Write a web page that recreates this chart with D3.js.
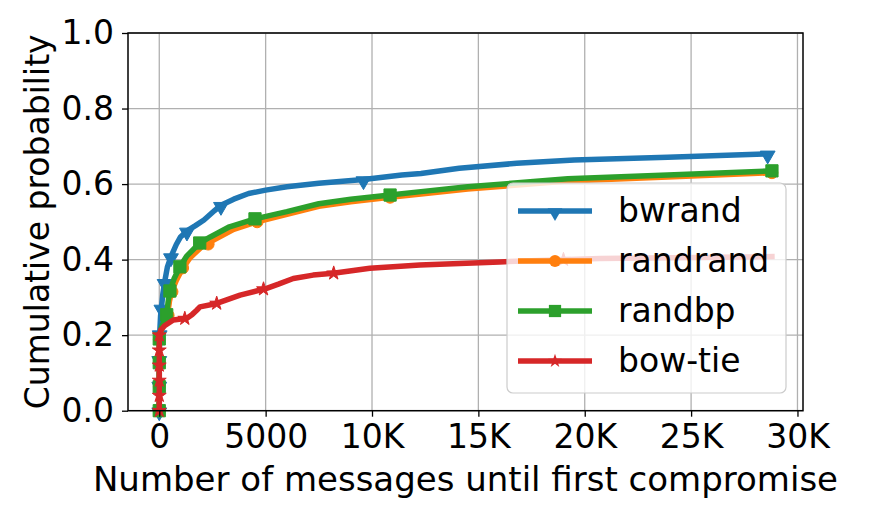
<!DOCTYPE html>
<html lang="en">
<head>
<meta charset="utf-8">
<title>Messages until first compromise</title>
<script src="https://cdn.jsdelivr.net/npm/d3@7"></script>
<style>
  body { margin: 0; background: #fff; }
  svg text { font-family: "DejaVu Sans", sans-serif; fill: #000; }
</style>
</head>
<body>
<script>
// CDF curves: [messages, cumulative probability]
var bwrand = [[0,0],[0,0.14],[20,0.204],[60,0.25],[100,0.272],[170,0.31],[250,0.34],[380,0.38],[550,0.408],[800,0.44],[1000,0.46],[1300,0.476],[1700,0.49],[2100,0.505],[2600,0.53],[2900,0.544],[3500,0.56],[4200,0.575],[5000,0.584],[6000,0.593],[7500,0.602],[9600,0.612],[11400,0.624],[12300,0.628],[14100,0.642],[16800,0.655],[19500,0.664],[23900,0.671],[28600,0.68]];
var randrand = [[0,0],[0,0.19],[130,0.22],[380,0.25],[480,0.29],[580,0.315],[800,0.345],[1080,0.375],[1450,0.405],[2050,0.437],[2600,0.453],[3500,0.48],[4600,0.5],[6000,0.52],[7500,0.541],[9000,0.553],[10850,0.565],[12300,0.574],[14500,0.587],[17000,0.598],[19200,0.608],[23900,0.619],[28800,0.63]];
var randbp = [[0,0],[0,0.19],[100,0.22],[350,0.254],[420,0.29],[500,0.317],[700,0.35],[970,0.381],[1300,0.41],[1900,0.444],[2400,0.46],[3300,0.487],[4500,0.508],[6000,0.527],[7500,0.548],[9000,0.56],[10850,0.571],[12300,0.58],[14500,0.593],[17000,0.604],[19200,0.614],[23900,0.624],[28800,0.635]];
var bowtie = [[0,0],[0,0.2],[100,0.215],[250,0.225],[660,0.24],[1300,0.245],[1550,0.255],[1760,0.266],[1913,0.275],[2700,0.284],[3800,0.306],[5050,0.324],[5600,0.335],[6300,0.35],[7230,0.359],[8180,0.364],[9900,0.377],[12250,0.386],[16000,0.394],[20700,0.403],[28800,0.408]];

// marker positions (markevery) per series
var bwrandMarks = [[0,0],[0,0.068],[0,0.136],[20,0.204],[100,0.272],[250,0.34],[550,0.408],[1300,0.476],[2900,0.544],[9600,0.612],[28600,0.68]];
var randrandMarks = [[0,0],[0,0.063],[0,0.126],[0,0.189],[420,0.252],[600,0.315],[1100,0.378],[2300,0.441],[4600,0.5],[10850,0.565],[28800,0.63]];
var randbpMarks = [[0,0],[0,0.0635],[0,0.127],[0,0.19],[350,0.254],[500,0.317],[970,0.381],[1900,0.444],[4500,0.508],[10850,0.571],[28800,0.635]];
var bowtieMarks = [[0,0],[0,0.04],[0,0.08],[0,0.12],[0,0.16],[0,0.2],[1200,0.244],[2700,0.284],[4900,0.322],[8200,0.364],[19000,0.4]];

var seriesNames = ["bwrand", "randrand", "randbp", "bow-tie"];
var xTicks = [0, 5000, 10000, 15000, 20000, 25000, 30000];
var xTickLabels = ["0", "5000", "10K", "15K", "20K", "25K", "30K"];
var yTicks = [0, 0.2, 0.4, 0.6, 0.8, 1.0];

var w = 872, h = 518;
var pLeft = 128, pTop = 33, pRight = 803, pBottom = 410.7;
var fs = 33;
var lw = 5.5;

var series = [
  { name: seriesNames[0], pts: bwrand, marks: bwrandMarks, color: "#1f77b4", sym: "tri", size: 95 },
  { name: seriesNames[1], pts: randrand, marks: randrandMarks, color: "#ff7f0e", sym: d3.symbolCircle, size: 110 },
  { name: seriesNames[2], pts: randbp, marks: randbpMarks, color: "#2ca02c", sym: d3.symbolSquare, size: 150 },
  { name: seriesNames[3], pts: bowtie, marks: bowtieMarks, color: "#d62728", sym: d3.symbolStar, size: 60 }
];

var svg = d3.select("body").append("svg")
  .attr("width", w)
  .attr("height", h);

var xScale = d3.scaleLinear().domain([-1470, 30260]).range([pLeft, pRight]);
var yScale = d3.scaleLinear().domain([0, 1]).range([pBottom, pTop]);

//grid
svg.append("g").selectAll("line").data(xTicks).enter().append("line")
  .attr("x1", function(d) { return xScale(d); })
  .attr("x2", function(d) { return xScale(d); })
  .attr("y1", pTop).attr("y2", pBottom)
  .attr("stroke", "#b0b0b0").attr("stroke-width", 1.3);
svg.append("g").selectAll("line").data(yTicks).enter().append("line")
  .attr("y1", function(d) { return yScale(d); })
  .attr("y2", function(d) { return yScale(d); })
  .attr("x1", pLeft).attr("x2", pRight)
  .attr("stroke", "#b0b0b0").attr("stroke-width", 1.3);

function symbolPath(s) {
  if (s.sym === "tri") {
    return d3.symbol().type(d3.symbolTriangle).size(s.size)();
  }
  return d3.symbol().type(s.sym).size(s.size)();
}
function symbolTransform(s, x, y) {
  if (s.sym === "tri") return "translate(" + x + "," + (y + 1.5) + ") rotate(180)";
  return "translate(" + x + "," + y + ")";
}

var line = d3.line()
  .x(function(d) { return xScale(d[0]); })
  .y(function(d) { return yScale(d[1]); });

var plot = svg.append("g");
series.forEach(function(s) {
  var g = plot.append("g");
  g.append("path")
    .datum(s.pts)
    .attr("d", line)
    .attr("fill", "none")
    .attr("stroke", s.color)
    .attr("stroke-width", lw)
    .attr("stroke-linejoin", "round")
    .attr("stroke-linecap", "square");
  g.selectAll("path.mk").data(s.marks).enter().append("path")
    .attr("class", "mk")
    .attr("d", symbolPath(s))
    .attr("transform", function(d) { return symbolTransform(s, xScale(d[0]), yScale(d[1])); })
    .attr("fill", s.color)
    .attr("stroke", s.color)
    .attr("stroke-width", 1);
});

//axes
var xAxis = d3.axisBottom(xScale)
  .tickValues(xTicks)
  .tickFormat(function(d, i) { return xTickLabels[i]; })
  .tickSize(6).tickPadding(8);
var gx = svg.append("g")
  .attr("transform", "translate(0," + pBottom + ")")
  .call(xAxis);
gx.select(".domain").remove();
gx.selectAll("line").attr("stroke", "#000").attr("stroke-width", 1.3);
gx.selectAll("text").attr("font-size", fs).attr("font-family", "DejaVu Sans");

var yAxis = d3.axisLeft(yScale)
  .tickValues(yTicks)
  .tickFormat(d3.format(".1f"))
  .tickSize(6).tickPadding(8);
var gy = svg.append("g")
  .attr("transform", "translate(" + pLeft + ",0)")
  .call(yAxis);
gy.select(".domain").remove();
gy.selectAll("line").attr("stroke", "#000").attr("stroke-width", 1.3);
gy.selectAll("text").attr("font-size", fs).attr("font-family", "DejaVu Sans");

//frame
svg.append("rect")
  .attr("x", pLeft).attr("y", pTop)
  .attr("width", pRight - pLeft).attr("height", pBottom - pTop)
  .attr("fill", "none").attr("stroke", "#000").attr("stroke-width", 1.5);

//labels
svg.append("text")
  .attr("x", (pLeft + pRight) / 2)
  .attr("y", 491)
  .attr("text-anchor", "middle")
  .attr("font-size", 34)
  .text("Number of messages until first compromise");

svg.append("text")
  .attr("transform", "translate(49," + ((pTop + pBottom) / 2) + ") rotate(-90)")
  .attr("text-anchor", "middle")
  .attr("font-size", fs)
  .text("Cumulative probability");

//legend
var lg = svg.append("g").attr("transform", "translate(507,183)");
lg.append("rect")
  .attr("width", 279).attr("height", 210).attr("rx", 6)
  .attr("fill", "#fff").attr("fill-opacity", 0.8)
  .attr("stroke", "#cccccc").attr("stroke-width", 1.2);
series.forEach(function(s, i) {
  var y = 28 + i * 50;
  lg.append("line")
    .attr("x1", 11).attr("x2", 85)
    .attr("y1", y).attr("y2", y)
    .attr("stroke", s.color).attr("stroke-width", lw);
  lg.append("path")
    .attr("d", symbolPath(s))
    .attr("transform", symbolTransform(s, 48, y))
    .attr("fill", s.color);
  lg.append("text")
    .attr("x", 111).attr("y", y + 11)
    .attr("font-size", fs)
    .text(s.name);
});
</script>
</body>
</html>
